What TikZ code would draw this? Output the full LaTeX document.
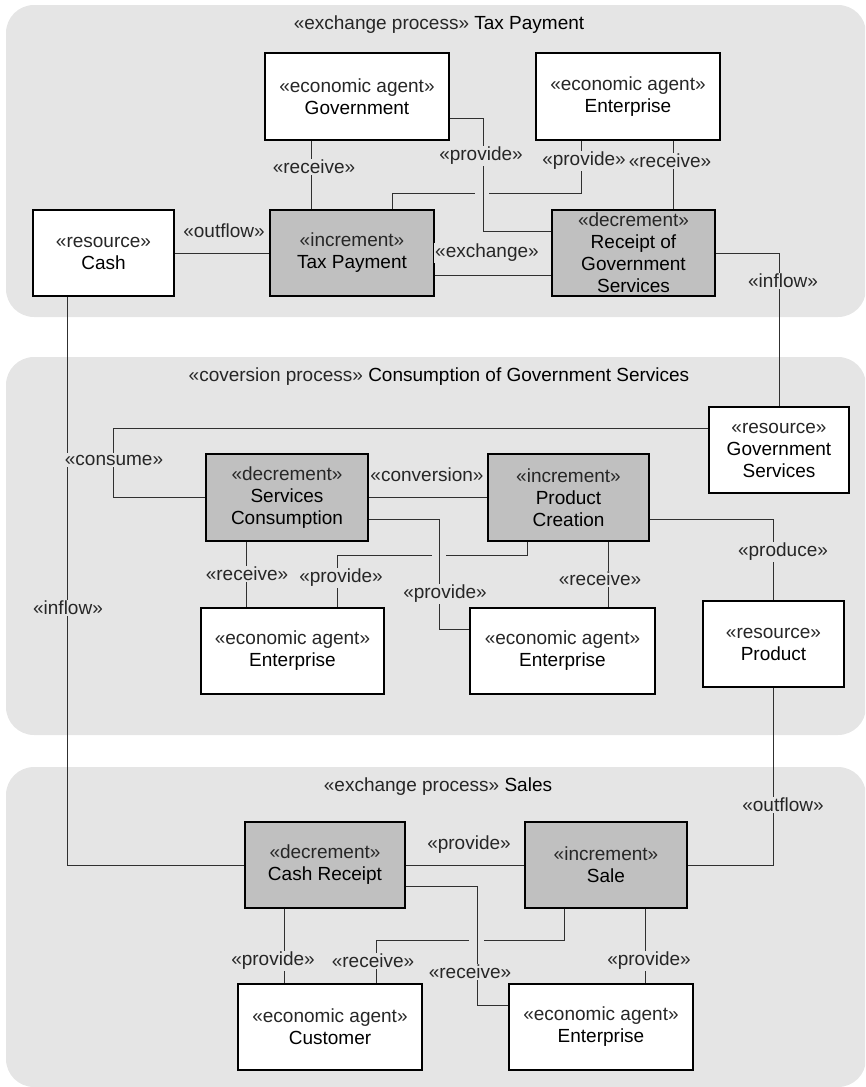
\documentclass[tikz,border=0pt]{standalone}
\usepackage{fontspec}
\setmainfont{Liberation Sans}
\definecolor{groupbg}{HTML}{E5E5E5}
\definecolor{eventfill}{HTML}{C0C0C0}
\definecolor{wire}{HTML}{303030}
\definecolor{stereotext}{HTML}{262626}
% stereotype keywords are set a shade lighter than element names
\newcommand\stereo[1]{{\color{stereotext}#1}}
\tikzset{
  txt/.style={font=\fontsize{19}{22}\selectfont},
  sz/.style 2 args={minimum width=#1, minimum height=#2},
  base/.style={txt, draw=black, line width=1.4pt, inner sep=0pt, align=center},
  agentbox/.style={base, fill=white},
  eventbox/.style={base, fill=eventfill},
  groupbox/.style={fill=groupbg, draw=none, rounded corners=28pt, inner sep=0pt},
  grouptitle/.style={txt, inner sep=0pt},
  wireline/.style={draw=wire, line width=1pt},
  lbl/.style={txt, text=stereotext, fill=groupbg, inner sep=1.5pt},
  gapfill/.style={fill=groupbg},
}
\begin{document}
\begin{tikzpicture}[x=1pt,y=-1pt]
\useasboundingbox (0,0) rectangle (865,1087);
\clip (0,0) rectangle (865,1087);

% process containers
\node[groupbox, sz={860}{312}] (g1) at (436,161) {};
\node[groupbox, sz={860}{378}] (g2) at (436,546) {};
\node[groupbox, sz={860}{320}] (g3) at (436,927) {};
\node[grouptitle] (t1) at (439,25) {\stereo{«exchange process»} Tax Payment};
\node[grouptitle] (t2) at (439,377) {\stereo{«coversion process»} Consumption of Government Services};
\node[grouptitle] (t3) at (438,787) {\stereo{«exchange process»} Sales};

% Tax Payment
\node[agentbox, sz={184}{87}] (gov) at (357,96.5) {\stereo{«economic agent»}\\Government};
\node[agentbox, sz={184}{87}] (ent1) at (628,96.5) {\stereo{«economic agent»}\\Enterprise};
\node[agentbox, sz={141}{86}] (cash) at (103.5,253) {\stereo{«resource»}\\Cash};
\node[eventbox, sz={164}{86}] (tax) at (352,253) {\stereo{«increment»}\\Tax Payment};
\node[eventbox, sz={163}{86}] (rgs) at (633.5,253) {\stereo{«decrement»}\\Receipt of\\Government\\Services};

% Consumption of Government Services
\node[agentbox, sz={140}{86}] (gs) at (779,450) {\stereo{«resource»}\\Government\\Services};
\node[eventbox, sz={162}{87}] (sc) at (287,497.5) {\stereo{«decrement»}\\Services\\Consumption};
\node[eventbox, sz={161}{87}] (pc) at (568.5,497.5) {\stereo{«increment»}\\Product\\Creation};
\node[agentbox, sz={183}{86}] (ent2) at (292.5,651) {\stereo{«economic agent»}\\Enterprise};
\node[agentbox, sz={185}{86}] (ent3) at (562.5,651) {\stereo{«economic agent»}\\Enterprise};
\node[agentbox, sz={141}{86}] (prod) at (773.5,644) {\stereo{«resource»}\\Product};

% Sales
\node[eventbox, sz={160}{86}] (cr) at (325,865) {\stereo{«decrement»}\\Cash Receipt};
\node[eventbox, sz={162}{86}] (sale) at (606,865) {\stereo{«increment»}\\Sale};
\node[agentbox, sz={184}{86}] (cust) at (330,1027) {\stereo{«economic agent»}\\Customer};
\node[agentbox, sz={184}{86}] (ent4) at (601,1027) {\stereo{«economic agent»}\\Enterprise};

% connectors, Tax Payment
\draw[wireline] ([xshift=47]gov.south west) -- ([xshift=42]tax.north west);
\draw[wireline] ([xshift=46]ent1.south west) -- ++(0,53) -| ([xshift=123]tax.north west);
\fill[gapfill] (475,190) rectangle (489,196);
\draw[wireline] ([yshift=-21.5]gov.east) -- ++(34,0) |- ([yshift=22]rgs.west);
\draw[wireline] ([xshift=138]ent1.south west) -- ([xshift=122]rgs.north west);
\draw[wireline] (cash.east) -- (tax.west);
\draw[wireline] ([yshift=-22]tax.east) -- ([yshift=-22]rgs.west);
\draw[wireline] (rgs.east) -| (gs.north);
\draw[wireline] ([xshift=35]cash.south west) |- (cr.west);

% connectors, Consumption of Government Services
\draw[wireline] ([yshift=22]gs.west) -- ++(-595,0) |- (sc.west);
\draw[wireline] (sc.east) -- (pc.west);
\draw[wireline] ([xshift=41]sc.south west) -- ([xshift=46]ent2.north west);
\draw[wireline] ([xshift=40]pc.south west) -- ++(0,14) -| ([xshift=137]ent2.north west);
\fill[gapfill] (432,552) rectangle (446,558);
\draw[wireline] ([yshift=-21.5]sc.east) -- ++(71,0) |- ([yshift=22]ent3.west);
\draw[wireline] ([xshift=121]pc.south west) -- ([xshift=139]ent3.north west);
\draw[wireline] ([yshift=-21.5]pc.east) -| (prod.north);

% connectors, Sales
\draw[wireline] (cr.east) -- (sale.west);
\draw[wireline] (sale.east) -| (prod.south);
\draw[wireline] ([xshift=40]cr.south west) -- ([xshift=47]cust.north west);
\draw[wireline] ([xshift=40]sale.south west) -- ++(0,32) -| ([xshift=139]cust.north west);
\fill[gapfill] (469,937) rectangle (484,943);
\draw[wireline] ([yshift=-21]cr.east) -- ++(72,0) |- ([yshift=22]ent4.west);
\draw[wireline] ([xshift=121]sale.south west) -- ([xshift=137]ent4.north west);

% connector labels
\node[lbl] (l1) at (314,167) {«receive»};
\node[lbl] (l2) at (481,156) {«provide»};
\node[lbl] (l3) at (584,161) {«provide»};
\node[lbl] (l4) at (670,161) {«receive»};
\node[lbl] (l5) at (224,231) {«outflow»};
\node[lbl] (l6) at (487,253) {«exchange»};
\node[lbl] (l7) at (783,281) {«inflow»};
\node[lbl] (l8) at (68,608) {«inflow»};
\node[lbl] (l9) at (114,460) {«consume»};
\node[lbl] (l10) at (427,475) {«conversion»};
\node[lbl] (l11) at (247,574) {«receive»};
\node[lbl] (l12) at (341,578) {«provide»};
\node[lbl] (l13) at (445,594) {«provide»};
\node[lbl] (l14) at (600,579) {«receive»};
\node[lbl] (l15) at (783,552) {«produce»};
\node[lbl] (l16) at (783,805) {«outflow»};
\node[lbl] (l17) at (469,845) {«provide»};
\node[lbl] (l18) at (273,961) {«provide»};
\node[lbl] (l19) at (373,961) {«receive»};
\node[lbl] (l20) at (470,972) {«receive»};
\node[lbl] (l21) at (649,961) {«provide»};
\end{tikzpicture}
\end{document}
